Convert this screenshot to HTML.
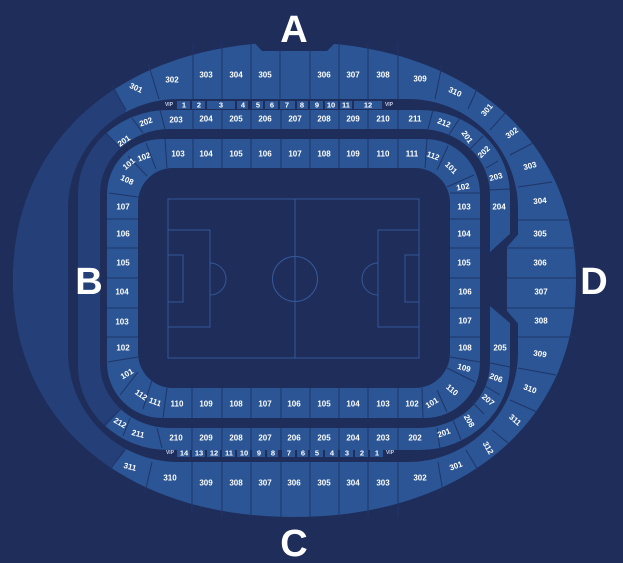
<!DOCTYPE html>
<html><head><meta charset="utf-8"><style>
html,body{margin:0;padding:0;background:#1f2d5b;}
svg{display:block}
.l{font-family:"Liberation Sans",sans-serif;font-size:8px;font-weight:bold;fill:#fff;text-anchor:middle;dominant-baseline:central}
.v{font-family:"Liberation Sans",sans-serif;font-size:7.5px;font-weight:bold;fill:#fff;text-anchor:middle;dominant-baseline:central}
.vip{font-family:"Liberation Sans",sans-serif;font-size:5px;font-weight:bold;fill:#c8d0e8;text-anchor:middle;dominant-baseline:central}
.big{font-family:"Liberation Sans",sans-serif;font-size:38px;font-weight:bold;fill:#fff;text-anchor:middle}
.d line{stroke:#1f3568;stroke-width:1}
</style></head><body>
<svg width="623" height="563" viewBox="0 0 623 563" xmlns="http://www.w3.org/2000/svg">
<defs>
<clipPath id="c3"><path d="M294 42 C463 42 576 137 576 280 C576 423 463 517 294 517 C125 517 13 423 13 280 C13 137 125 42 294 42Z"/></clipPath>
<clipPath id="c2"><rect x="78" y="110" width="432" height="340" rx="90" ry="85"/></clipPath>
</defs>
<rect width="623" height="563" fill="#1f2d5b"/>
<!-- ring 300 -->
<path d="M294 42 C463 42 576 137 576 280 C576 423 463 517 294 517 C125 517 13 423 13 280 C13 137 125 42 294 42Z" fill="#2b5594"/>
<polygon clip-path="url(#c3)" points="0,0 112,0 112,85 126,110 126,450 110,470 110,563 0,563" fill="#253f78"/>
<polygon points="250,38 262,51 327,51 340,38" fill="#1f2d5b"/>
<!-- band1 -->
<rect x="68" y="99" width="450" height="363" rx="110" ry="110" fill="#1f2d5b"/>
<!-- ring 200 -->
<rect x="78" y="110" width="432" height="340" rx="90" ry="85" fill="#2b5594"/>
<polygon clip-path="url(#c2)" points="0,0 106,0 106,133 122,150 122,408 104,428 104,563 0,563" fill="#253f78"/>
<polygon points="480,252 490,252 511,233 511,324 490,306 480,306" fill="#1f2d5b"/>
<polygon points="522,230 507,247 507,311 522,328" fill="#2b5594"/>
<!-- band2 -->
<rect x="100" y="129" width="390" height="299" rx="70" ry="65" fill="#1f2d5b"/>
<!-- ring 100 -->
<rect x="107" y="139" width="373" height="279" rx="55" ry="55" fill="#2b5594"/>
<!-- field -->
<rect x="138" y="168" width="312" height="220" rx="35" ry="35" fill="#1f2d5b"/>
<g fill="none" stroke="#35589a" stroke-width="1">
<rect x="168" y="199" width="251" height="159"/>
<line x1="295" y1="199" x2="295" y2="358"/>
<circle cx="295" cy="279" r="22.5"/>
<rect x="168" y="230" width="42" height="97"/>
<rect x="168" y="255" width="15" height="47"/>
<path d="M210 263 A16 16 0 0 1 210 295"/>
<rect x="378" y="230" width="41" height="97"/>
<rect x="405" y="255" width="14" height="47"/>
<path d="M378 263 A16 16 0 0 0 378 295"/>
</g>
<!-- VIP rows -->
<g fill="#2b5594">
<rect x="177" y="101" width="13" height="8"/><rect x="192" y="101" width="13" height="8"/><rect x="207" y="101" width="28" height="8"/><rect x="237" y="101" width="11" height="8"/><rect x="252" y="101" width="11" height="8"/><rect x="265" y="101" width="13" height="8"/><rect x="280" y="101" width="15" height="8"/><rect x="297" y="101" width="11" height="8"/><rect x="310" y="101" width="13" height="8"/><rect x="325" y="101" width="13" height="8"/><rect x="340" y="101" width="12" height="8"/><rect x="354" y="101" width="28" height="8"/>
<rect x="177" y="449" width="13" height="8"/><rect x="192" y="449" width="13" height="8"/><rect x="207" y="449" width="13" height="8"/><rect x="222" y="449" width="13" height="8"/><rect x="237" y="449" width="13" height="8"/><rect x="252" y="449" width="13" height="8"/><rect x="267" y="449" width="11" height="8"/><rect x="282" y="449" width="13" height="8"/><rect x="297" y="449" width="11" height="8"/><rect x="310" y="449" width="13" height="8"/><rect x="325" y="449" width="13" height="8"/><rect x="340" y="449" width="13" height="8"/><rect x="355" y="449" width="13" height="8"/><rect x="370" y="449" width="13" height="8"/>
</g>
<text class="vip" x="169" y="105">VIP</text><text class="vip" x="389" y="105">VIP</text>
<text class="vip" x="170" y="453">VIP</text><text class="vip" x="390" y="453">VIP</text>
<g class="v">
<text x="184" y="105">1</text><text x="199" y="105">2</text><text x="221" y="105">3</text><text x="243" y="105">4</text><text x="258" y="105">5</text><text x="272" y="105">6</text><text x="287" y="105">7</text><text x="302" y="105">8</text><text x="317" y="105">9</text><text x="331" y="105">10</text><text x="346" y="105">11</text><text x="368" y="105">12</text>
<text x="184" y="453">14</text><text x="199" y="453">13</text><text x="214" y="453">12</text><text x="229" y="453">11</text><text x="244" y="453">10</text><text x="259" y="453">9</text><text x="273" y="453">8</text><text x="289" y="453">7</text><text x="303" y="453">6</text><text x="317" y="453">5</text><text x="332" y="453">4</text><text x="347" y="453">3</text><text x="362" y="453">2</text><text x="377" y="453">1</text>
</g>
<!-- dividers -->
<g class="d">
<!-- ring300 top -->
<line x1="112" y1="85" x2="126" y2="110"/>
<line x1="148" y1="63" x2="159" y2="99"/><line x1="193" y1="42" x2="193" y2="99"/><line x1="222" y1="42" x2="222" y2="99"/><line x1="251" y1="42" x2="251" y2="99"/><line x1="280" y1="50" x2="280" y2="99"/><line x1="310" y1="50" x2="310" y2="99"/><line x1="339" y1="42" x2="339" y2="99"/><line x1="368" y1="42" x2="368" y2="99"/><line x1="398" y1="42" x2="398" y2="99"/><line x1="442" y1="65" x2="435" y2="99"/>
<!-- ring300 right -->
<line x1="478" y1="87" x2="468" y2="109"/><line x1="507" y1="111" x2="490" y2="130"/><line x1="533" y1="143" x2="510" y2="155"/><line x1="552" y1="182" x2="518" y2="187"/><line x1="568" y1="220" x2="518" y2="220"/><line x1="576" y1="248" x2="507" y2="248"/><line x1="576" y1="278" x2="507" y2="278"/><line x1="576" y1="308" x2="507" y2="308"/><line x1="573" y1="337" x2="518" y2="337"/><line x1="556" y1="375" x2="518" y2="368"/><line x1="537" y1="412" x2="510" y2="400"/><line x1="508" y1="443" x2="492" y2="430"/><line x1="478" y1="470" x2="466" y2="450"/><line x1="443" y1="492" x2="438" y2="462"/>
<!-- ring300 bottom -->
<line x1="398" y1="462" x2="398" y2="517"/><line x1="368" y1="462" x2="368" y2="517"/><line x1="339" y1="462" x2="339" y2="517"/><line x1="310" y1="462" x2="310" y2="517"/><line x1="281" y1="462" x2="281" y2="517"/><line x1="251" y1="462" x2="251" y2="517"/><line x1="222" y1="462" x2="222" y2="517"/><line x1="192" y1="462" x2="192" y2="514"/><line x1="145" y1="493" x2="152" y2="462"/><line x1="110" y1="470" x2="124" y2="450"/>
<!-- ring200 top -->
<line x1="106" y1="133" x2="122" y2="150"/><line x1="132" y1="118" x2="143" y2="133"/><line x1="160" y1="110" x2="165" y2="129"/><line x1="193" y1="110" x2="193" y2="129"/><line x1="222" y1="110" x2="222" y2="129"/><line x1="251" y1="110" x2="251" y2="129"/><line x1="281" y1="110" x2="281" y2="129"/><line x1="310" y1="110" x2="310" y2="129"/><line x1="339" y1="110" x2="339" y2="129"/><line x1="368" y1="110" x2="368" y2="129"/><line x1="398" y1="110" x2="398" y2="129"/><line x1="433" y1="110" x2="428" y2="129"/><line x1="460" y1="118" x2="448" y2="136"/><line x1="483" y1="136" x2="468" y2="151"/><line x1="498" y1="161" x2="486" y2="168"/><line x1="510" y1="189" x2="490" y2="190"/>
<!-- ring200 right lower & bottom -->
<line x1="510" y1="367" x2="490" y2="363"/><line x1="500" y1="395" x2="485" y2="386"/><line x1="484" y1="414" x2="472" y2="402"/><line x1="461" y1="440" x2="453" y2="420"/><line x1="440" y1="449" x2="437" y2="428"/><line x1="398" y1="428" x2="398" y2="450"/><line x1="368" y1="428" x2="368" y2="450"/><line x1="339" y1="428" x2="339" y2="450"/><line x1="310" y1="428" x2="310" y2="450"/><line x1="281" y1="428" x2="281" y2="450"/><line x1="251" y1="428" x2="251" y2="450"/><line x1="222" y1="428" x2="222" y2="450"/><line x1="192" y1="428" x2="192" y2="450"/><line x1="157" y1="428" x2="162" y2="448"/><line x1="130" y1="418" x2="123" y2="436"/><line x1="122" y1="408" x2="104" y2="425"/>
<!-- ring100 -->
<line x1="128" y1="156" x2="147" y2="176"/><line x1="146" y1="143" x2="156" y2="169"/><line x1="165" y1="139" x2="167" y2="168"/><line x1="193" y1="139" x2="193" y2="168"/><line x1="222" y1="139" x2="222" y2="168"/><line x1="251" y1="139" x2="251" y2="168"/><line x1="281" y1="139" x2="281" y2="168"/><line x1="310" y1="139" x2="310" y2="168"/><line x1="339" y1="139" x2="339" y2="168"/><line x1="368" y1="139" x2="368" y2="168"/><line x1="398" y1="139" x2="398" y2="168"/><line x1="427" y1="139" x2="425" y2="168"/><line x1="448" y1="146" x2="437" y2="170"/>
<line x1="474" y1="175" x2="447" y2="187"/><line x1="480" y1="193" x2="450" y2="193"/><line x1="480" y1="219" x2="450" y2="219"/><line x1="480" y1="248" x2="450" y2="248"/><line x1="480" y1="278" x2="450" y2="278"/><line x1="480" y1="308" x2="450" y2="308"/><line x1="480" y1="337" x2="450" y2="337"/><line x1="480" y1="362" x2="450" y2="357"/><line x1="475" y1="382" x2="447" y2="368"/><line x1="447" y1="412" x2="437" y2="390"/><line x1="423" y1="418" x2="422" y2="388"/>
<line x1="398" y1="388" x2="398" y2="418"/><line x1="368" y1="388" x2="368" y2="418"/><line x1="339" y1="388" x2="339" y2="418"/><line x1="310" y1="388" x2="310" y2="418"/><line x1="281" y1="388" x2="281" y2="418"/><line x1="251" y1="388" x2="251" y2="418"/><line x1="222" y1="388" x2="222" y2="418"/><line x1="192" y1="388" x2="192" y2="418"/><line x1="167" y1="388" x2="163" y2="418"/><line x1="152" y1="380" x2="143" y2="409"/><line x1="138" y1="372" x2="120" y2="395"/>
<line x1="108" y1="362" x2="138" y2="357"/><line x1="107" y1="337" x2="138" y2="337"/><line x1="107" y1="308" x2="138" y2="308"/><line x1="107" y1="278" x2="138" y2="278"/><line x1="107" y1="248" x2="138" y2="248"/><line x1="107" y1="219" x2="138" y2="219"/><line x1="109" y1="193" x2="138" y2="197"/>
</g>
<!-- labels -->
<g class="l">
<text x="136" y="88" transform="rotate(25 136 88)">301</text><text x="172" y="80">302</text><text x="206" y="75">303</text><text x="236" y="75">304</text><text x="265" y="75">305</text><text x="324" y="75">306</text><text x="353" y="75">307</text><text x="383" y="75">308</text><text x="420" y="79">309</text><text x="455" y="92" transform="rotate(25 455 92)">310</text>
<text x="487" y="110" transform="rotate(-50 487 110)">301</text><text x="512" y="133" transform="rotate(-35 512 133)">302</text><text x="530" y="166" transform="rotate(-15 530 166)">303</text><text x="540" y="201" transform="rotate(-5 540 201)">304</text><text x="540" y="234">305</text><text x="540" y="263">306</text><text x="541" y="292">307</text><text x="541" y="321">308</text><text x="540" y="354" transform="rotate(8 540 354)">309</text><text x="530" y="389" transform="rotate(20 530 389)">310</text><text x="515" y="420" transform="rotate(40 515 420)">311</text><text x="488" y="448" transform="rotate(60 488 448)">312</text><text x="456" y="466" transform="rotate(-20 456 466)">301</text><text x="420" y="478">302</text>
<text x="383" y="483">303</text><text x="353" y="483">304</text><text x="324" y="483">305</text><text x="294" y="483">306</text><text x="265" y="483">307</text><text x="236" y="483">308</text><text x="206" y="483">309</text><text x="170" y="478">310</text><text x="130" y="467" transform="rotate(15 130 467)">311</text>
<text x="124" y="141" transform="rotate(-35 124 141)">201</text><text x="146" y="122" transform="rotate(-20 146 122)">202</text><text x="176" y="120">203</text><text x="206" y="119">204</text><text x="236" y="119">205</text><text x="265" y="119">206</text><text x="295" y="119">207</text><text x="324" y="119">208</text><text x="353" y="119">209</text><text x="383" y="119">210</text><text x="415" y="119">211</text><text x="444" y="123" transform="rotate(20 444 123)">212</text>
<text x="467" y="137" transform="rotate(55 467 137)">201</text><text x="484" y="152" transform="rotate(-45 484 152)">202</text><text x="496" y="177" transform="rotate(-15 496 177)">203</text><text x="499" y="207">204</text><text x="500" y="348">205</text><text x="496" y="378" transform="rotate(20 496 378)">206</text><text x="488" y="400" transform="rotate(40 488 400)">207</text><text x="469" y="421" transform="rotate(60 469 421)">208</text><text x="444" y="433" transform="rotate(-20 444 433)">201</text>
<text x="415" y="438">202</text><text x="383" y="438">203</text><text x="353" y="438">204</text><text x="324" y="438">205</text><text x="294" y="438">206</text><text x="265" y="438">207</text><text x="236" y="438">208</text><text x="206" y="438">209</text><text x="176" y="438">210</text><text x="138" y="434" transform="rotate(15 138 434)">211</text><text x="120" y="423" transform="rotate(30 120 423)">212</text>
<text x="129" y="164" transform="rotate(-40 129 164)">101</text><text x="144" y="157" transform="rotate(-20 144 157)">102</text><text x="178" y="154">103</text><text x="206" y="154">104</text><text x="236" y="154">105</text><text x="265" y="154">106</text><text x="295" y="154">107</text><text x="324" y="154">108</text><text x="353" y="154">109</text><text x="383" y="154">110</text><text x="412" y="154">111</text><text x="433" y="156" transform="rotate(20 433 156)">112</text>
<text x="451" y="168" transform="rotate(45 451 168)">101</text><text x="463" y="187" transform="rotate(-10 463 187)">102</text><text x="464" y="207">103</text><text x="464" y="234">104</text><text x="464" y="263">105</text><text x="465" y="292">106</text><text x="465" y="321">107</text><text x="465" y="348">108</text><text x="464" y="368" transform="rotate(15 464 368)">109</text><text x="452" y="390" transform="rotate(40 452 390)">110</text><text x="432" y="403" transform="rotate(-30 432 403)">101</text>
<text x="412" y="404">102</text><text x="383" y="404">103</text><text x="353" y="404">104</text><text x="324" y="404">105</text><text x="294" y="404">106</text><text x="265" y="404">107</text><text x="236" y="404">108</text><text x="206" y="404">109</text><text x="177" y="404">110</text><text x="155" y="402" transform="rotate(20 155 402)">111</text><text x="141" y="395" transform="rotate(35 141 395)">112</text>
<text x="127" y="374" transform="rotate(-30 127 374)">101</text><text x="123" y="348">102</text><text x="122" y="322">103</text><text x="122" y="292">104</text><text x="123" y="263">105</text><text x="123" y="234">106</text><text x="123" y="207">107</text><text x="127" y="180" transform="rotate(25 127 180)">108</text>
</g>
<text class="big" x="294" y="42">A</text>
<text class="big" x="89" y="294">B</text>
<text class="big" x="294" y="556">C</text>
<text class="big" x="594" y="294">D</text>
</svg>
</body></html>
